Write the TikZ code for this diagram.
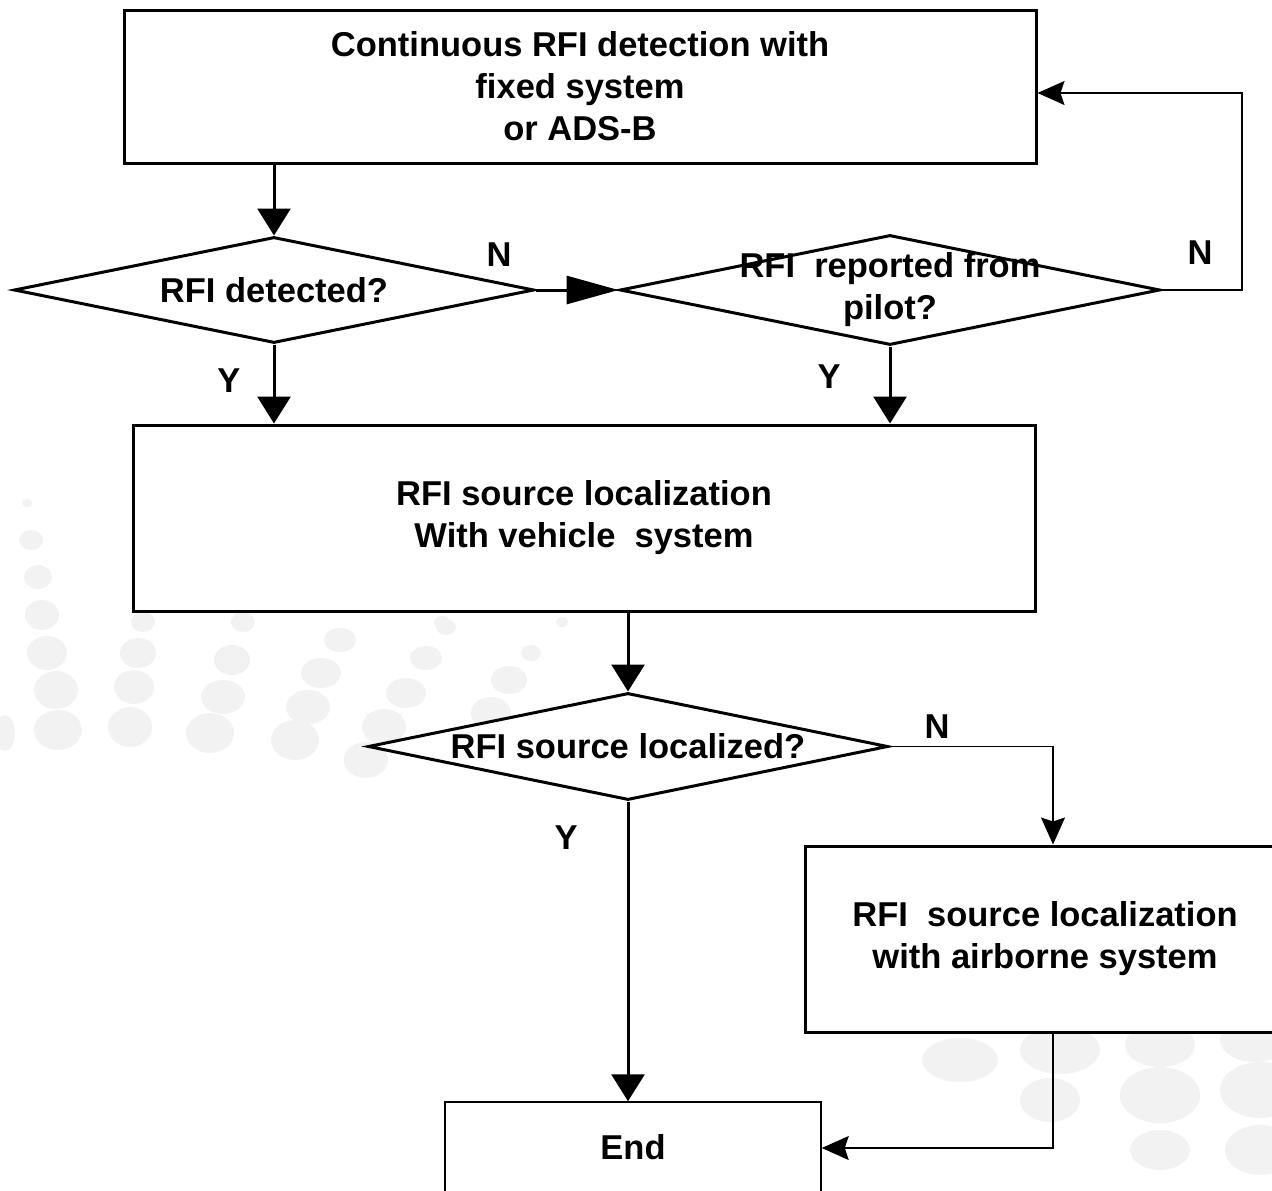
\documentclass[tikz,border=0pt]{standalone}
\usepackage{fontspec}
\setmainfont{Liberation Sans}
\usetikzlibrary{shapes.geometric,arrows.meta}
\begin{document}
\begin{tikzpicture}[x=1pt,y=-1pt,
  every node/.style={font=\fontsize{34.5}{42}\selectfont\bfseries, align=center},
  procbox/.style={draw, line width=3pt, fill=white, inner sep=0pt},
  thinbox/.style={draw, line width=1.5pt, fill=white, inner sep=0pt},
  decision/.style={diamond, draw, line width=3pt, fill=white, inner sep=0pt},
  flow/.style={line width=3pt, -{Triangle[length=27pt,width=33pt]}},
  longflow/.style={line width=3pt, -{Triangle[length=52pt,width=28pt]}},
  back/.style={line width=1.5pt, -{Stealth[length=27pt,width=24pt,inset=4pt]}},
  lbl/.style={inner sep=0pt},
  dot/.style={fill=black!5, draw=none}]
\useasboundingbox (0,0) rectangle (1272,1191);
\clip (0,0) rectangle (1272,1191);
% faint background dots
\foreach \x/\y/\rx/\ry in {27/503/5/4, 31/540/12/10, 38/577/14/12, 42/615/17/15, 47/653/20/17, 56/690/22/19, 58/730/24/20, 5/733/10/18,
  143/622/12/10, 138/653/18/15, 134/687/20/17, 130/727/22/20,
  243/622/12/10, 232/660/18/15, 223/697/22/17, 210/733/24/20,
  340/640/16/12, 321/673/20/15, 308/707/22/17, 295/740/24/20,
  426/658/16/12, 406/693/20/15, 384/727/22/18, 366/760/22/18,
  531/653/10/8, 509/680/18/14, 491/713/20/16, 442/622/8/6, 562/622/6/5, 446/627/10/8,
  960/1060/38/22, 1060/1050/40/24, 1160/1045/35/22, 1255/1040/35/22,
  1050/1100/30/22, 1160/1095/40/28, 1260/1090/40/28, 1160/1150/30/20, 1260/1150/35/25}
  \fill[dot] (\x,\y) ellipse [x radius=\rx, y radius=\ry];
% nodes
\node[procbox, minimum width=912pt, minimum height=153pt] (top) at (580,86.5)
  {Continuous RFI detection with\\fixed system\\or ADS-B};
\node[decision, minimum width=520pt, minimum height=106pt] (d1) at (274,290) {};
\node (d1t) at (d1) {RFI detected?};
\node[decision, minimum width=540pt, minimum height=110pt] (d2) at (890,290) {};
\node (d2t) at (d2) {RFI~~reported from\\pilot?};
\node[procbox, minimum width=902pt, minimum height=186pt] (box2) at (584,518)
  {RFI source localization\\With vehicle~~system};
\node[decision, minimum width=520pt, minimum height=107pt] (d3) at (628,746.5) {};
\node (d3t) at (d3) {RFI source localized?};
\node[procbox, minimum width=480pt, minimum height=186pt] (box3) at (1045,939)
  {RFI~~source localization\\with airborne system};
\node[thinbox, minimum width=376pt, minimum height=90pt] (end) at (633,1147) {End};
% labels
\node[lbl] (n1) at (499,255) {N};
\node[lbl] (n2) at (1200,253) {N};
\node[lbl] (y1) at (229,381) {Y};
\node[lbl] (y2) at (829,377) {Y};
\node[lbl] (n3) at (937,727) {N};
\node[lbl] (y3) at (566,838) {Y};
% connectors
\draw[flow] (top.south -| d1.north) -- (d1.north);
\draw[longflow] (d1.east) -- (d2.west);
\coordinate (c1) at (1242,290);
\coordinate (c2) at (1242,93);
\draw[back] (d2.east) -- (c1) -- (c2) -- (c2 -| top.east);
\draw[flow] (d1.south) -- (d1.south |- box2.north);
\draw[flow] (d2.south) -- (d2.south |- box2.north);
\draw[flow] (box2.south -| d3.north) -- (d3.north);
\coordinate (c3) at (1053,746.5);
\draw[back] (d3.east) -- (c3) -- (c3 |- box3.north);
\draw[flow] (d3.south) -- (d3.south |- end.north);
\coordinate (c4) at (1053,1148);
\draw[back] (box3.south -| c4) -- (c4) -- (c4 -| end.east);
\end{tikzpicture}
\end{document}
